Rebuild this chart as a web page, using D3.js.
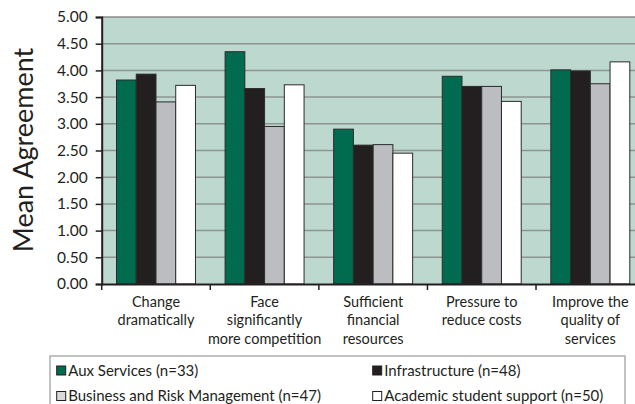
<!DOCTYPE html>
<html>
<head>
<meta charset="utf-8">
<script src="https://cdn.jsdelivr.net/npm/d3@7"></script>
<style>
  html, body { margin: 0; padding: 0; background: #fff; }
  svg { display: block; }
  text { font-family: Lato, "Open Sans", sans-serif; fill: #231f20; }
</style>
</head>
<body>
<svg id="chart" width="635" height="404"></svg>
<script>
const categories = [
  ["Change", "dramatically"],
  ["Face", "significantly", "more competition"],
  ["Sufficient", "financial", "resources"],
  ["Pressure to", "reduce costs"],
  ["Improve the", "quality of", "services"]
];
const seriesNames = [
  "Aux Services (n=33)",
  "Infrastructure (n=48)",
  "Business and Risk Management (n=47)",
  "Academic student support (n=50)"
];
const auxValues = [3.82, 4.35, 2.90, 3.89, 4.01];
const infraValues = [3.93, 3.66, 2.60, 3.70, 3.99];
const businessValues = [3.41, 2.95, 2.61, 3.70, 3.75];
const academicValues = [3.72, 3.73, 2.45, 3.42, 4.16];
const yTicks = [0, 0.5, 1, 1.5, 2, 2.5, 3, 3.5, 4, 4.5, 5];
const colors = ["#006b4f", "#231f20", "#bcbdc1", "#ffffff"];

(function () {
const seriesValues = [auxValues, infraValues, businessValues, academicValues];
const catKeys = categories.map((c, i) => "c" + i);

const svg = d3.select("#chart");
const pLeft = 101.7, pRight = 644.6, pTop = 17, pBottom = 284;

const x0 = d3.scaleBand().domain(catKeys).range([pLeft, pRight]).paddingInner(0).paddingOuter(0);
const x1 = d3.scaleBand().domain(d3.range(seriesNames.length)).range([0, x0.bandwidth()]).paddingInner(0).paddingOuter(0.75);
const y = d3.scaleLinear().domain([0, 5]).range([pBottom, pTop]);

svg.append("rect").attr("x", pLeft).attr("y", pTop).attr("width", pRight - pLeft).attr("height", pBottom - pTop).attr("fill", "#bcd8cf");

svg.append("g").selectAll("line").data(yTicks.filter(t => t > 0 && t < 5)).join("line")
  .attr("x1", pLeft).attr("x2", pRight)
  .attr("y1", d => y(d)).attr("y2", d => y(d))
  .attr("stroke", "#8e9491").attr("stroke-width", 1.5);
svg.append("line").attr("x1", pLeft).attr("x2", pRight).attr("y1", y(5)).attr("y2", y(5))
  .attr("stroke", "#8a8a8a").attr("stroke-width", 1.5);

const groups = svg.append("g").selectAll("g").data(catKeys).join("g")
  .attr("transform", d => `translate(${x0(d)},0)`);
groups.selectAll("rect").data((d, ci) => seriesValues.map((vals, si) => ({si, v: vals[ci]}))).join("rect")
  .attr("x", d => x1(d.si))
  .attr("width", x1.bandwidth())
  .attr("y", d => y(d.v))
  .attr("height", d => y(0) - y(d.v))
  .attr("fill", d => colors[d.si])
  .attr("stroke", "#2b2b2b").attr("stroke-width", 1);

const yAxis = d3.axisLeft(y).tickValues(yTicks).tickFormat(d3.format(".2f")).tickSize(6).tickPadding(8);
const ya = svg.append("g").attr("transform", `translate(${pLeft},0)`).call(yAxis);
ya.select(".domain").attr("stroke", "#231f20").attr("stroke-width", 2);
ya.selectAll(".tick line").attr("stroke", "#231f20").attr("stroke-width", 1.5);
ya.selectAll(".tick text").style("font-family", "Lato, sans-serif").style("font-size", "15.5px").attr("fill", "#231f20");

const xAxis = d3.axisBottom(x0).tickSize(0).tickFormat("");
const xa = svg.append("g").attr("transform", `translate(0,${pBottom})`).call(xAxis);
xa.select(".domain").attr("stroke", "#231f20").attr("stroke-width", 2);
const bounds = catKeys.map(k => x0(k)).concat([x0(catKeys[catKeys.length - 1]) + x0.bandwidth()]);
xa.selectAll("line.bound").data(bounds).join("line").attr("class", "bound")
  .attr("x1", d => d).attr("x2", d => d).attr("y1", 0).attr("y2", 6)
  .attr("stroke", "#231f20").attr("stroke-width", 1.5);

const lab = svg.append("g").selectAll("text").data(catKeys).join("text")
  .attr("text-anchor", "middle")
  .attr("x", d => x0(d) + x0.bandwidth() / 2)
  .attr("y", 306.5)
  .style("font-size", "14.5px");
lab.selectAll("tspan").data((d, i) => categories[i]).join("tspan")
  .attr("x", function() { return d3.select(this.parentNode).attr("x"); })
  .attr("dy", (d, i) => i === 0 ? 0 : 18.5)
  .text(d => d);

svg.append("text").attr("transform", "translate(33,150) rotate(-90)")
  .attr("text-anchor", "middle").style("font-size", "27px").text("Mean Agreement");

const lg = svg.append("g");
lg.append("rect").attr("x", 50).attr("y", 356).attr("width", 575).attr("height", 60)
  .attr("fill", "#fff").attr("stroke", "#9a9a9a").attr("stroke-width", 1.2);
const legPos = [[56.7, 370.5], [372.7, 370.5], [56.7, 396], [372.7, 396]];
const li = lg.selectAll("g.item").data(seriesNames).join("g").attr("class", "item")
  .attr("transform", (d, i) => `translate(${legPos[i][0]},${legPos[i][1]})`);
li.append("rect").attr("x", 0).attr("y", -4.5).attr("width", 9).attr("height", 9)
  .attr("fill", (d, i) => colors[i] === "#bcbdc1" ? "#d9d9db" : colors[i]).attr("stroke", "#231f20").attr("stroke-width", 1);
li.append("text").attr("x", 11.5).attr("y", 0).attr("dy", "0.35em").style("font-size", "15px").text(d => d);
})();
</script>
</body>
</html>
